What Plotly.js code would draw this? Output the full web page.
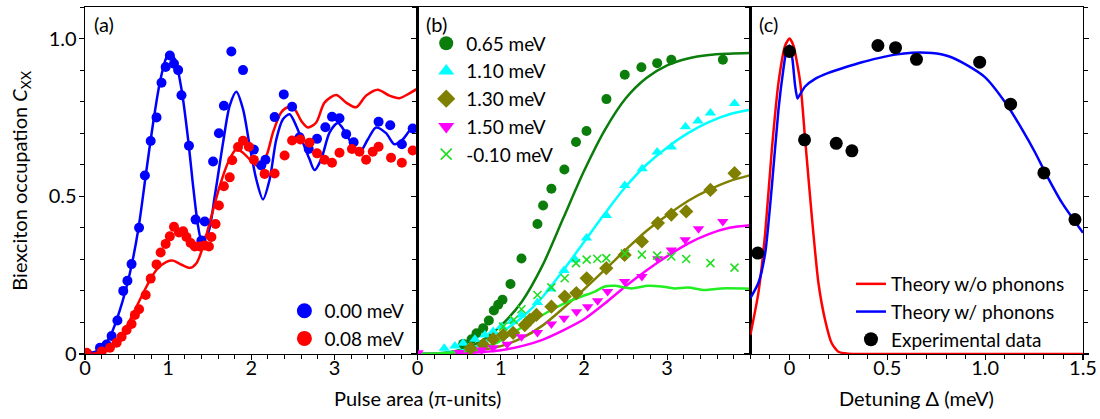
<!DOCTYPE html>
<html>
<head>
<meta charset="utf-8">
<script src="https://cdn.plot.ly/plotly-3.0.1.min.js"></script>
<style>html,body{margin:0;padding:0;background:#fff;}#chart{width:1100px;height:419px;}</style>
</head>
<body>
<div id="chart"></div>
<script>
// ---------- Panel (a) ----------
const aBlueX = [0.03,0.18,0.26,0.32,0.39,0.46,0.51,0.56,0.65,0.72,0.79,0.86,0.92,0.97,1.02,1.07,1.12,1.16,1.25,1.33,1.40,1.44,1.54,1.61,1.67,1.76,1.90,2.03,2.12,2.17,2.28,2.39,2.49,2.58,2.69,2.79,2.89,2.97,3.06,3.14,3.23,3.53,3.67,3.81,3.94];
const aBlueY = [0.00,0.02,0.03,0.057,0.106,0.20,0.232,0.285,0.40,0.566,0.675,0.75,0.86,0.91,0.946,0.92,0.90,0.82,0.66,0.426,0.36,0.42,0.61,0.70,0.787,0.959,0.90,0.648,0.598,0.616,0.751,0.823,0.784,0.687,0.650,0.682,0.719,0.752,0.747,0.697,0.671,0.736,0.725,0.665,0.715];
const aRedX = [0.02,0.20,0.30,0.38,0.44,0.50,0.56,0.60,0.65,0.73,0.79,0.86,0.91,0.97,1.02,1.07,1.13,1.18,1.22,1.27,1.32,1.38,1.44,1.49,1.52,1.57,1.61,1.67,1.74,1.77,1.84,1.90,1.97,2.03,2.16,2.28,2.40,2.49,2.59,2.70,2.79,2.88,2.97,3.06,3.21,3.30,3.38,3.46,3.53,3.68,3.81,3.94];
const aRedY = [0.004,0.008,0.02,0.036,0.055,0.076,0.095,0.124,0.142,0.187,0.239,0.284,0.322,0.349,0.373,0.403,0.385,0.389,0.371,0.352,0.341,0.341,0.344,0.341,0.371,0.412,0.471,0.532,0.56,0.614,0.656,0.676,0.657,0.616,0.571,0.572,0.629,0.677,0.680,0.670,0.636,0.616,0.606,0.638,0.650,0.641,0.616,0.641,0.657,0.622,0.606,0.645];
const aBlueLineX = [0,0.18,0.3,0.42,0.54,0.64,0.74,0.82,0.9,0.98,1.02,1.08,1.16,1.24,1.30,1.36,1.40,1.48,1.56,1.66,1.74,1.82,1.90,1.98,2.06,2.14,2.22,2.30,2.38,2.46,2.54,2.62,2.70,2.76,2.84,2.94,3.04,3.12,3.22,3.30,3.40,3.50,3.62,3.72,3.82,3.92,4.0];
const aBlueLineY = [0,0.013,0.055,0.14,0.257,0.394,0.585,0.734,0.861,0.94,0.951,0.935,0.84,0.68,0.532,0.405,0.363,0.384,0.50,0.67,0.787,0.831,0.776,0.66,0.553,0.49,0.553,0.68,0.744,0.76,0.723,0.67,0.617,0.583,0.617,0.702,0.732,0.707,0.66,0.638,0.68,0.718,0.70,0.665,0.68,0.713,0.723];
const aRedLineX = [0,0.18,0.3,0.38,0.5,0.62,0.74,0.86,0.98,1.06,1.16,1.26,1.34,1.42,1.52,1.62,1.72,1.82,1.90,1.98,2.08,2.18,2.26,2.36,2.44,2.52,2.60,2.68,2.78,2.88,3.02,3.14,3.26,3.38,3.52,3.66,3.78,3.90,4.0];
const aRedLineY = [0,0.004,0.013,0.034,0.087,0.15,0.214,0.267,0.292,0.296,0.283,0.273,0.288,0.341,0.437,0.532,0.607,0.649,0.638,0.617,0.596,0.628,0.702,0.766,0.782,0.776,0.739,0.718,0.734,0.797,0.821,0.797,0.782,0.819,0.838,0.819,0.811,0.826,0.842];

// ---------- Panel (b) ----------
const bGreenX = [0.547,0.648,0.708,0.788,0.856,0.916,0.968,1.02,1.116,1.248,1.44,1.508,1.608,1.764,1.904,2.03,2.27,2.49,2.69,2.88,3.05,3.67];
const bGreenY = [0.032,0.047,0.066,0.082,0.106,0.138,0.156,0.172,0.222,0.303,0.412,0.471,0.524,0.585,0.672,0.707,0.808,0.885,0.909,0.922,0.933,0.933];
const bGreenLineX = [0,0.3,0.57,0.77,1.0,1.25,1.5,1.75,2.0,2.25,2.5,2.75,3.0,3.25,3.5,3.75,4.0];
const bGreenLineY = [0,0.003,0.018,0.042,0.09,0.165,0.28,0.43,0.58,0.71,0.81,0.875,0.915,0.937,0.948,0.952,0.954];
const bCyanX = [0.32,0.448,0.547,0.688,0.808,0.908,1.008,1.128,1.248,1.44,1.60,1.76,1.896,2.03,2.27,2.49,2.70,2.88,3.05,3.22,3.37,3.52,3.81];
const bCyanY = [0.018,0.025,0.034,0.047,0.06,0.071,0.087,0.103,0.124,0.163,0.206,0.265,0.299,0.368,0.439,0.534,0.587,0.64,0.656,0.72,0.739,0.764,0.794];
const bCyanLineX = [0,0.3,0.5,0.75,1.0,1.25,1.5,1.75,2.0,2.25,2.5,2.75,3.0,3.25,3.5,3.75,4.0];
const bCyanLineY = [0,0.003,0.01,0.03,0.068,0.115,0.18,0.265,0.355,0.445,0.53,0.6,0.655,0.7,0.735,0.76,0.774];
const bOliveX = [0.636,0.788,0.908,1.028,1.148,1.288,1.348,1.428,1.608,1.768,1.908,2.032,2.268,2.488,2.696,2.888,3.05,3.229,3.52,3.81];
const bOliveY = [0.018,0.029,0.047,0.06,0.067,0.092,0.108,0.124,0.15,0.182,0.193,0.24,0.272,0.314,0.357,0.415,0.442,0.452,0.52,0.573];
const bOliveLineX = [0,0.5,1.0,1.25,1.5,1.75,2.0,2.27,2.5,2.75,3.0,3.25,3.5,3.75,4.0];
const bOliveLineY = [0,0.004,0.025,0.05,0.09,0.145,0.205,0.272,0.33,0.39,0.44,0.485,0.52,0.548,0.567];
const bMagX = [0.004,0.5,0.768,0.908,1.076,1.248,1.44,1.608,1.76,1.91,2.044,2.164,2.284,2.488,2.696,2.888,3.05,3.217,3.377,3.669];
const bMagY = [0.004,0.005,0.013,0.02,0.031,0.055,0.068,0.095,0.113,0.134,0.15,0.169,0.198,0.23,0.246,0.302,0.33,0.362,0.397,0.42];
const bMagLineX = [0,0.5,1.0,1.25,1.5,1.75,2.0,2.25,2.5,2.75,3.0,3.25,3.5,3.75,4.0];
const bMagLineY = [0,0.002,0.012,0.025,0.045,0.075,0.11,0.16,0.215,0.265,0.31,0.35,0.38,0.4,0.408];
const bLimeX = [1.028,1.156,1.248,1.44,1.608,1.768,1.904,2.032,2.16,2.268,2.492,2.696,2.88,3.05,3.229,3.52,3.81];
const bLimeY = [0.087,0.108,0.142,0.187,0.211,0.24,0.288,0.299,0.302,0.304,0.318,0.315,0.312,0.309,0.301,0.288,0.274];
const bLimeLineX = [0,0.35,0.77,0.97,1.17,1.37,1.57,1.77,1.97,2.13,2.25,2.37,2.57,2.77,2.93,3.09,3.25,3.45,3.65,4.0];
const bLimeLineY = [0,0.003,0.018,0.038,0.071,0.103,0.134,0.161,0.182,0.198,0.214,0.216,0.208,0.216,0.214,0.208,0.211,0.203,0.208,0.207];

// ---------- Panel (c) ----------
const cExpX = [-0.162,0,0.077,0.239,0.319,0.452,0.542,0.649,0.972,1.13,1.30,1.459];
const cExpY = [0.32,0.959,0.679,0.668,0.644,0.978,0.971,0.934,0.925,0.792,0.574,0.426];
const cNoPhX = [-0.2,-0.159,-0.124,-0.09,-0.056,-0.022,0,0.02,0.055,0.08,0.114,0.148,0.182,0.216,0.25,0.30,0.4,0.8,1.2,1.5];
const cNoPhY = [0.06,0.193,0.384,0.649,0.861,0.978,1.0,0.978,0.861,0.681,0.437,0.225,0.108,0.034,0.007,0.001,0,0,0,0];
const cPhX = [-0.2,-0.159,-0.124,-0.09,-0.056,-0.031,-0.014,0,0.015,0.029,0.041,0.055,0.08,0.131,0.199,0.285,0.37,0.455,0.54,0.626,0.728,0.813,0.898,1.0,1.103,1.188,1.256,1.307,1.393,1.5];
const cPhY = [0.177,0.225,0.32,0.532,0.776,0.903,0.967,0.978,0.935,0.85,0.81,0.824,0.848,0.872,0.891,0.909,0.925,0.938,0.949,0.955,0.954,0.944,0.919,0.877,0.797,0.713,0.638,0.575,0.479,0.384];

const labelsA = ['0.00 meV','0.08 meV'];
const labelsB = ['0.65 meV','1.10 meV','1.30 meV','1.50 meV','-0.10 meV'];
const labelsC = ['Theory w/o phonons','Theory w/ phonons','Experimental data'];

const FONT = 'Lato, "Open Sans", sans-serif';
const FS = 20;
const LFS = 19;
const LW = 2.5;

function line(x, y, color, xa, ya, sm) {
  return {x, y, xaxis: xa, yaxis: ya, mode: 'lines', type: 'scatter',
    line: {color, width: LW, shape: 'spline', smoothing: sm || 0.8}, showlegend: false, hoverinfo: 'skip'};
}
function pts(x, y, color, symbol, size, xa, ya) {
  return {x, y, xaxis: xa, yaxis: ya, mode: 'markers', type: 'scatter', showlegend: false,
    marker: {color, symbol, size, line: {width: symbol === 'x-thin' ? 1.6 : 0, color}}, cliponaxis: true};
}
// legend-only entries (bigger symbols, as in the reference legends)
function legPt(name, color, symbol, size, xa, ya, leg) {
  return {x: [null], y: [null], xaxis: xa, yaxis: ya, mode: 'markers', type: 'scatter', name, legend: leg,
    marker: {color, symbol, size, line: {width: symbol === 'x-thin' ? 1.6 : 0, color}}};
}
function legLine(name, color, xa, ya, leg) {
  return {x: [null], y: [null], xaxis: xa, yaxis: ya, mode: 'lines', type: 'scatter', name, legend: leg,
    line: {color, width: LW}};
}

const traces = [
  line(aBlueLineX, aBlueLineY, '#0000ff', 'x', 'y'),
  line(aRedLineX, aRedLineY, '#ff0000', 'x', 'y'),
  pts(aBlueX, aBlueY, '#0000ff', 'circle', 10, 'x', 'y'),
  pts(aRedX, aRedY, '#ff0000', 'circle', 10, 'x', 'y'),
  legPt(labelsA[0], '#0000ff', 'circle', 15, 'x', 'y', 'legend'),
  legPt(labelsA[1], '#ff0000', 'circle', 15, 'x', 'y', 'legend'),

  line(bGreenLineX, bGreenLineY, '#0a7d0a', 'x2', 'y2'),
  line(bCyanLineX, bCyanLineY, '#00ffff', 'x2', 'y2'),
  line(bOliveLineX, bOliveLineY, '#808000', 'x2', 'y2'),
  line(bMagLineX, bMagLineY, '#ff00ff', 'x2', 'y2'),
  line(bLimeLineX, bLimeLineY, '#22ee22', 'x2', 'y2'),
  pts(bGreenX, bGreenY, '#0a7d0a', 'circle', 10, 'x2', 'y2'),
  pts(bCyanX, bCyanY, '#00ffff', 'triangle-up', 10, 'x2', 'y2'),
  pts(bOliveX, bOliveY, '#808000', 'diamond', 11, 'x2', 'y2'),
  pts(bMagX, bMagY, '#ff00ff', 'triangle-down', 10, 'x2', 'y2'),
  pts(bLimeX, bLimeY, '#22dd22', 'x-thin', 8, 'x2', 'y2'),
  legPt(labelsB[0], '#0a7d0a', 'circle', 14, 'x2', 'y2', 'legend2'),
  legPt(labelsB[1], '#00ffff', 'triangle-up', 14, 'x2', 'y2', 'legend2'),
  legPt(labelsB[2], '#808000', 'diamond', 14, 'x2', 'y2', 'legend2'),
  legPt(labelsB[3], '#ff00ff', 'triangle-down', 14, 'x2', 'y2', 'legend2'),
  legPt(labelsB[4], '#22dd22', 'x-thin', 11, 'x2', 'y2', 'legend2'),

  line(cNoPhX, cNoPhY, '#ff0000', 'x3', 'y3', 0.6),
  line(cPhX, cPhY, '#0000ff', 'x3', 'y3', 0.6),
  pts(cExpX, cExpY, '#000000', 'circle', 13, 'x3', 'y3'),
  legLine(labelsC[0], '#ff0000', 'x3', 'y3', 'legend3'),
  legLine(labelsC[1], '#0000ff', 'x3', 'y3', 'legend3'),
  legPt(labelsC[2], '#000000', 'circle', 14, 'x3', 'y3', 'legend3')
];

const baseAxis = {
  showline: true, linecolor: '#000', linewidth: 1.4, mirror: true,
  ticks: 'outside', ticklen: 5, tickwidth: 1.2, tickcolor: '#000',
  showgrid: false, zeroline: false, automargin: false,
  tickfont: {family: FONT, size: FS, color: '#000'}
};
function xa(domain, range, tickvals, ticktext, minorD) {
  return Object.assign({}, baseAxis, {domain, range, tickmode: 'array', tickvals, ticktext, ticklabelstandoff: -9,
    minor: {ticks: 'outside', ticklen: 4, tickwidth: 1, tickcolor: '#000', tickmode: 'linear', tick0: 0, dtick: minorD}});
}
function ya(anchor, showLabels, mirror) {
  return Object.assign({}, baseAxis, {anchor, domain: [0, 1], range: [0, 1.1], tickmode: 'array',
    tickvals: [0, 0.5, 1.0], ticktext: ['0', '0.5', '1.0'], showticklabels: showLabels, mirror: mirror, ticklabelstandoff: -2,
    minor: {ticks: 'outside', ticklen: 4, tickwidth: 1, tickcolor: '#000', tickmode: 'linear', tick0: 0, dtick: 0.1}});
}

const legFont = {family: FONT, size: LFS, color: '#000'};
const layout = {
  width: 1100, height: 419,
  margin: {l: 85, r: 17, t: 7, b: 65, autoexpand: false},
  paper_bgcolor: '#fff', plot_bgcolor: '#fff',
  font: {family: FONT, size: FS, color: '#000'},
  xaxis: xa([0, 1/3], [0, 4], [0, 1, 2, 3], ['0', '1', '2', '3'], 0.2),
  xaxis2: Object.assign(xa([1/3, 2/3], [0, 4], [0, 1, 2, 3], ['0', '1', '2', '3'], 0.2), {anchor: 'y2'}),
  xaxis3: Object.assign(xa([2/3, 1], [-0.2, 1.5], [0, 0.5, 1.0, 1.5], ['0', '0.5', '1.0', '1.5'], 0.1), {anchor: 'y3'}),
  yaxis: ya('x', true, true),
  yaxis2: ya('x2', false, true),
  yaxis3: ya('x3', false, 'ticks'),
  legend: {x: 0.1998, y: 0.084, xanchor: 'left', yanchor: 'middle', bgcolor: 'rgba(0,0,0,0)', font: legFont},
  legend2: {x: 0.3419, y: 0.735, xanchor: 'left', yanchor: 'middle', bgcolor: 'rgba(0,0,0,0)', font: legFont},
  legend3: {x: 0.7675, y: 0.121, xanchor: 'left', yanchor: 'middle', bgcolor: 'rgba(0,0,0,0)', font: legFont},
  annotations: [
    {text: '(a)', xref: 'paper', yref: 'paper', x: 0.007, y: 0.95, xanchor: 'left', yanchor: 'middle', showarrow: false, font: {family: FONT, size: FS}},
    {text: '(b)', xref: 'paper', yref: 'paper', x: 0.340, y: 0.95, xanchor: 'left', yanchor: 'middle', showarrow: false, font: {family: FONT, size: FS}},
    {text: '(c)', xref: 'paper', yref: 'paper', x: 0.673, y: 0.95, xanchor: 'left', yanchor: 'middle', showarrow: false, font: {family: FONT, size: FS}},
    {text: 'Pulse area (π-units)', xref: 'paper', yref: 'paper', x: 1/3, y: -0.127, xanchor: 'center', yanchor: 'middle', showarrow: false, font: {family: FONT, size: FS}},
    {text: 'Detuning Δ (meV)', xref: 'paper', yref: 'paper', x: 0.8335, y: -0.127, xanchor: 'center', yanchor: 'middle', showarrow: false, font: {family: FONT, size: FS}},
    {text: 'Biexciton occupation <i>C</i><sub>XX</sub>', xref: 'paper', yref: 'paper', x: -0.065, y: 0.5, xanchor: 'center', yanchor: 'middle', textangle: -90, showarrow: false, font: {family: FONT, size: FS}}
  ]
};

Plotly.newPlot('chart', traces, layout, {staticPlot: true, displayModeBar: false});
</script>
</body>
</html>
